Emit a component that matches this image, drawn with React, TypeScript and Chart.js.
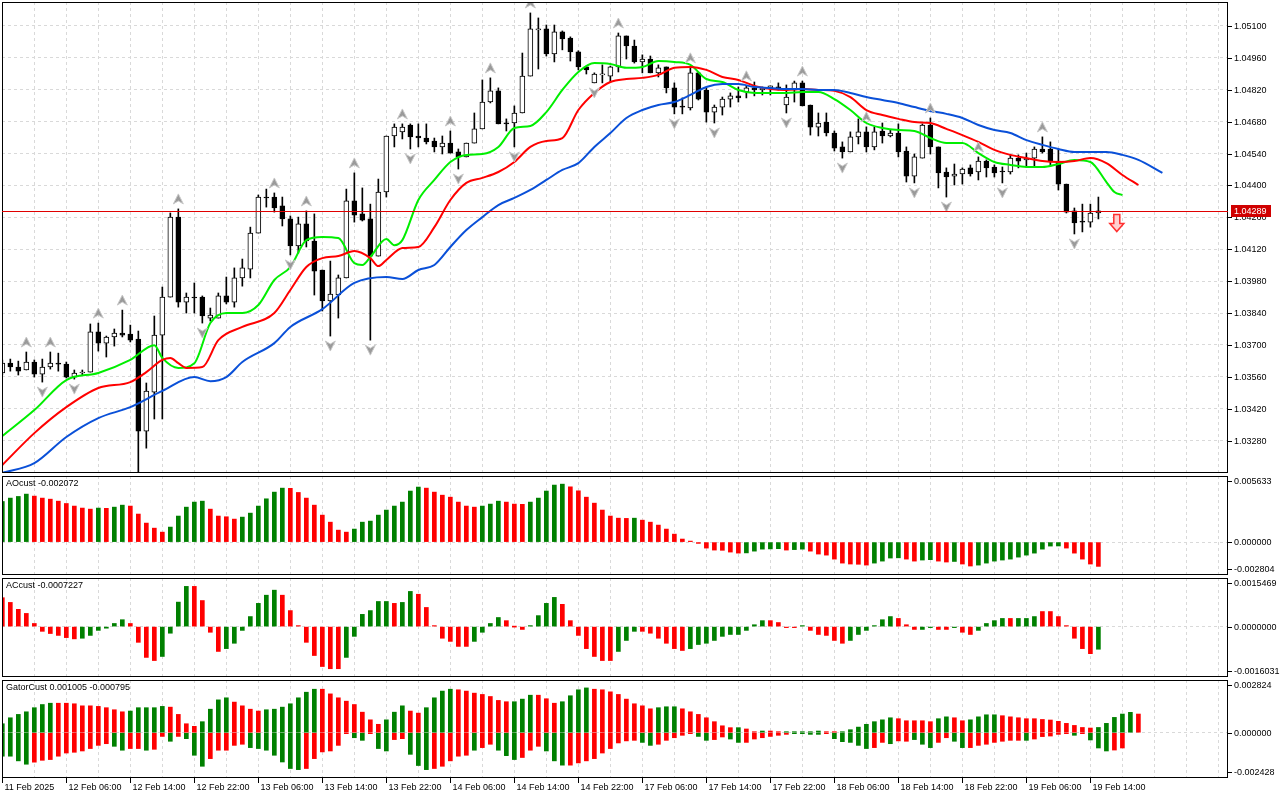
import React, { useEffect, useRef } from "react";
import { Chart, registerables } from "chart.js";
Chart.register(...registerables);

const opens = [
1.03577,1.03620,1.03603,1.03590,1.03625,1.03572,1.03603,1.03620,1.03616,1.03559,
1.03577,1.03581,1.03757,1.03708,1.03735,1.03752,1.03748,1.03726,1.03322,1.03493,
1.03743,1.03910,1.04261,1.03888,1.03910,1.03910,1.03818,1.03818,1.03915,1.03888,
1.03994,1.04033,1.04191,1.04349,1.04349,1.04310,1.04253,1.04134,1.04231,1.04156,
1.04029,1.03893,1.03919,1.03994,1.04332,1.04275,1.04253,1.04090,1.04371,1.04617,
1.04635,1.04665,1.04617,1.04608,1.04595,1.04569,1.04586,1.04547,1.04525,1.04586,
1.04648,1.04766,1.04815,1.04674,1.04674,1.04718,1.04880,1.05082,1.05087,1.04977,
1.05074,1.05047,1.04986,1.04920,1.04850,1.04885,1.04880,1.04920,1.05056,1.05012,
1.04942,1.04955,1.04894,1.04920,1.04828,1.04744,1.04740,1.04894,1.04819,1.04722,
1.04744,1.04779,1.04793,1.04810,1.04828,1.04819,1.04828,1.04832,1.04753,1.04819,
1.04850,1.04753,1.04656,1.04678,1.04630,1.04569,1.04547,1.04613,1.04635,1.04569,
1.04639,1.04617,1.04630,1.04551,1.04441,1.04520,1.04665,1.04569,1.04459,1.04441,
1.04450,1.04477,1.04459,1.04507,1.04481,1.04463,1.04459,1.04520,1.04512,1.04520,
1.04560,1.04560,1.04507,1.04406,1.04288,1.04239,1.04239,1.04279];
const highs = [
1.03634,1.03638,1.03629,1.03669,1.03634,1.03638,1.03669,1.03664,1.03625,1.03590,
1.03590,1.03792,1.03796,1.03739,1.03770,1.03853,1.03787,1.03761,1.03533,1.03827,
1.03954,1.04279,1.04297,1.03928,1.03972,1.03915,1.03862,1.03928,1.03998,1.04038,
1.04077,1.04217,1.04358,1.04384,1.04367,1.04349,1.04266,1.04261,1.04288,1.04275,
1.04029,1.04068,1.04007,1.04384,1.04455,1.04389,1.04318,1.04428,1.04617,1.04670,
1.04670,1.04670,1.04670,1.04670,1.04608,1.04617,1.04639,1.04560,1.04586,1.04718,
1.04863,1.04872,1.04828,1.04692,1.04749,1.04981,1.05157,1.05135,1.05104,1.05104,
1.05078,1.05052,1.04991,1.04924,1.04894,1.04929,1.04924,1.05069,1.05056,1.05038,
1.04973,1.04968,1.04929,1.04920,1.04850,1.04784,1.04916,1.04898,1.04828,1.04753,
1.04788,1.04806,1.04832,1.04837,1.04854,1.04832,1.04837,1.04850,1.04841,1.04858,
1.04858,1.04753,1.04718,1.04718,1.04639,1.04591,1.04635,1.04692,1.04657,1.04657,
1.04674,1.04643,1.04670,1.04569,1.04538,1.04670,1.04696,1.04569,1.04477,1.04494,
1.04477,1.04490,1.04525,1.04512,1.04490,1.04481,1.04534,1.04534,1.04542,1.04569,
1.04613,1.04591,1.04560,1.04406,1.04301,1.04318,1.04318,1.04349];
const lows = [
1.03568,1.03585,1.03568,1.03590,1.03559,1.03537,1.03594,1.03585,1.03555,1.03550,
1.03568,1.03581,1.03673,1.03647,1.03695,1.03735,1.03713,1.03142,1.03247,1.03375,
1.03375,1.03910,1.03866,1.03840,1.03840,1.03796,1.03805,1.03818,1.03880,1.03866,
1.03958,1.03994,1.04191,1.04305,1.04283,1.04222,1.04095,1.04103,1.04130,1.03919,
1.03849,1.03739,1.03818,1.03994,1.04239,1.04244,1.03721,1.04090,1.04349,1.04569,
1.04604,1.04560,1.04569,1.04582,1.04547,1.04538,1.04542,1.04472,1.04525,1.04586,
1.04648,1.04762,1.04670,1.04639,1.04569,1.04718,1.04880,1.04911,1.04968,1.04942,
1.04995,1.04946,1.04907,1.04889,1.04850,1.04850,1.04854,1.04898,1.04955,1.04937,
1.04894,1.04894,1.04876,1.04806,1.04714,1.04714,1.04731,1.04775,1.04678,1.04674,
1.04709,1.04744,1.04766,1.04784,1.04793,1.04797,1.04797,1.04819,1.04718,1.04766,
1.04749,1.04621,1.04617,1.04617,1.04551,1.04520,1.04547,1.04582,1.04547,1.04556,
1.04586,1.04613,1.04525,1.04415,1.04411,1.04520,1.04538,1.04389,1.04349,1.04402,
1.04406,1.04441,1.04424,1.04437,1.04437,1.04411,1.04450,1.04477,1.04481,1.04485,
1.04542,1.04490,1.04380,1.04279,1.04187,1.04196,1.04217,1.04253];
const closes = [
1.03620,1.03603,1.03585,1.03625,1.03572,1.03603,1.03620,1.03616,1.03559,1.03577,
1.03581,1.03757,1.03708,1.03735,1.03752,1.03743,1.03721,1.03322,1.03498,1.03743,
1.03910,1.04261,1.03888,1.03910,1.03906,1.03827,1.03831,1.03915,1.03888,1.03994,
1.04038,1.04191,1.04349,1.04345,1.04301,1.04253,1.04134,1.04231,1.04156,1.04024,
1.03893,1.03923,1.03994,1.04332,1.04270,1.04248,1.04090,1.04371,1.04617,1.04656,
1.04656,1.04613,1.04608,1.04591,1.04569,1.04586,1.04542,1.04525,1.04586,1.04648,
1.04766,1.04815,1.04670,1.04670,1.04718,1.04880,1.05087,1.05087,1.04977,1.05074,
1.05043,1.04986,1.04920,1.04907,1.04889,1.04889,1.04920,1.05056,1.05012,1.04942,
1.04955,1.04894,1.04916,1.04828,1.04744,1.04744,1.04894,1.04779,1.04722,1.04744,
1.04779,1.04793,1.04784,1.04828,1.04819,1.04828,1.04837,1.04828,1.04788,1.04850,
1.04749,1.04656,1.04674,1.04630,1.04564,1.04547,1.04613,1.04635,1.04569,1.04635,
1.04617,1.04630,1.04547,1.04441,1.04525,1.04665,1.04569,1.04455,1.04437,1.04450,
1.04472,1.04450,1.04507,1.04477,1.04455,1.04459,1.04520,1.04507,1.04520,1.04560,
1.04547,1.04507,1.04406,1.04283,1.04235,1.04239,1.04279,1.04289];

const jaw = [[0,1.03138],[4,1.03181],[8,1.03296],[12,1.03379],[16,1.03427],[20,1.03498],[24,1.03559],[26,1.03541],[28,1.03559],[30,1.03625],[34,1.03708],[36,1.03779],[40,1.03857],[44,1.03972],[48,1.03998],[50,1.03989],[52,1.04029],[54,1.04051],[56,1.04130],[58,1.04204],[60,1.04261],[62,1.04314],[64,1.04345],[66,1.04380],[68,1.04424],[70,1.04468],[72,1.04498],[74,1.04569],[76,1.04630],[78,1.04696],[80,1.04731],[82,1.04753],[84,1.04766],[86,1.04797],[88,1.04832],[90,1.04845],[92,1.04845],[94,1.04832],[96,1.04828],[98,1.04823],[100,1.04823],[102,1.04819],[104,1.04819],[106,1.04806],[108,1.04788],[110,1.04775],[112,1.04762],[114,1.04744],[116,1.04727],[118,1.04714],[120,1.04696],[122,1.04665],[124,1.04643],[126,1.04630],[128,1.04599],[130,1.04578],[132,1.04560],[134,1.04547],[136,1.04547],[138,1.04547],[140,1.04534],[142,1.04512],[145,1.04455]];
const teeth = [[0,1.03173],[4,1.03313],[8,1.03427],[12,1.03511],[16,1.03537],[18,1.03581],[20,1.03634],[21,1.03643],[22,1.03620],[23,1.03599],[25,1.03603],[27,1.03721],[30,1.03779],[34,1.03840],[36,1.03941],[38,1.04042],[40,1.04081],[42,1.04090],[44,1.04112],[46,1.04081],[47,1.04046],[48,1.04073],[50,1.04125],[52,1.04130],[54,1.04217],[56,1.04336],[58,1.04411],[60,1.04433],[62,1.04459],[64,1.04503],[66,1.04569],[68,1.04595],[70,1.04608],[72,1.04731],[74,1.04806],[76,1.04854],[78,1.04867],[80,1.04872],[82,1.04885],[84,1.04916],[86,1.04920],[88,1.04907],[90,1.04876],[92,1.04863],[94,1.04837],[96,1.04823],[98,1.04819],[100,1.04823],[102,1.04819],[104,1.04815],[106,1.04788],[108,1.04731],[110,1.04709],[112,1.04692],[114,1.04678],[116,1.04674],[118,1.04648],[120,1.04621],[122,1.04591],[124,1.04556],[126,1.04534],[128,1.04520],[130,1.04507],[132,1.04503],[134,1.04507],[136,1.04520],[138,1.04498],[140,1.04446],[142,1.04402]];
const lips = [[0,1.03300],[4,1.03414],[8,1.03546],[12,1.03577],[16,1.03634],[19,1.03699],[20,1.03643],[22,1.03599],[24,1.03620],[26,1.03796],[28,1.03840],[30,1.03840],[32,1.03875],[34,1.03985],[36,1.04042],[38,1.04160],[40,1.04174],[42,1.04169],[44,1.04059],[45,1.04051],[46,1.04086],[48,1.04165],[49,1.04138],[50,1.04160],[52,1.04336],[54,1.04424],[56,1.04503],[58,1.04534],[60,1.04538],[62,1.04569],[64,1.04652],[66,1.04661],[68,1.04722],[70,1.04819],[72,1.04898],[74,1.04937],[76,1.04933],[78,1.04916],[80,1.04920],[82,1.04946],[84,1.04942],[86,1.04929],[88,1.04867],[90,1.04854],[92,1.04819],[94,1.04806],[96,1.04806],[98,1.04806],[100,1.04810],[102,1.04810],[104,1.04779],[106,1.04731],[108,1.04674],[110,1.04652],[112,1.04643],[114,1.04639],[116,1.04608],[118,1.04586],[120,1.04586],[122,1.04542],[124,1.04503],[126,1.04490],[128,1.04481],[130,1.04481],[132,1.04494],[134,1.04512],[136,1.04503],[138,1.04415],[139,1.04371],[140,1.04358]];

const fractalUp = [3,6,12,15,22,34,38,44,50,56,61,66,77,86,93,100,108,116,122,130];
const fractalDown = [5,9,17,25,36,41,46,51,57,64,74,84,89,98,105,114,118,125,134];
const priceTicks = [1.051,1.0496,1.0482,1.0468,1.0454,1.044,1.0426,1.0412,1.0398,1.0384,1.037,1.0356,1.0342,1.0328];
const lastPrice = 1.04289;
const signalBar = 139.3;
const signalPrice = 1.04272;

const aoValues = [
0.00346,0.00375,0.00389,0.00409,0.00392,0.00375,0.00366,0.00349,0.00329,0.00307,
0.00290,0.00281,0.00290,0.00288,0.00298,0.00315,0.00307,0.00239,0.00162,0.00119,
0.00085,0.00128,0.00222,0.00298,0.00341,0.00349,0.00281,0.00222,0.00216,0.00196,
0.00213,0.00247,0.00307,0.00369,0.00426,0.00460,0.00458,0.00423,0.00375,0.00315,
0.00230,0.00170,0.00102,0.00085,0.00111,0.00170,0.00179,0.00230,0.00273,0.00307,
0.00341,0.00435,0.00469,0.00460,0.00426,0.00400,0.00383,0.00341,0.00307,0.00298,
0.00307,0.00324,0.00349,0.00341,0.00324,0.00322,0.00341,0.00375,0.00435,0.00486,
0.00494,0.00471,0.00437,0.00383,0.00332,0.00273,0.00222,0.00204,0.00202,0.00204,
0.00187,0.00170,0.00145,0.00111,0.00068,0.00026,0.00002,-0.00011,-0.00051,-0.00068,
-0.00070,-0.00085,-0.00094,-0.00092,-0.00077,-0.00060,-0.00058,-0.00056,-0.00068,-0.00064,
-0.00060,-0.00077,-0.00102,-0.00111,-0.00145,-0.00179,-0.00187,-0.00189,-0.00196,-0.00179,
-0.00162,-0.00136,-0.00134,-0.00145,-0.00162,-0.00153,-0.00150,-0.00162,-0.00170,-0.00165,
-0.00187,-0.00204,-0.00196,-0.00179,-0.00162,-0.00153,-0.00145,-0.00128,-0.00111,-0.00094,
-0.00060,-0.00034,-0.00033,-0.00051,-0.00094,-0.00145,-0.00187,-0.00207];
const aoColors =
  "GGGG"+"RRRRRRRR"+"G"+"R"+"GG"+"RRRRR"+"GGGGG"+"RRRR"+"GGGGGG"+"RRRRRRRR"+"GGGGGGGGG"+"RRRRRRR"+"GGG"+"RRR"+"GGGGG"+
  "RRRRRRRR"+"G"+"RRRRRRRRRRRRR"+"GGGGG"+"R"+"GG"+"RRRRRRRR"+"GGGG"+"RR"+"GG"+"RR"+"G"+"RR"+"GGGGGGGGGGG"+"RRRRR";

const acValues = [
0.00092,0.00077,0.00055,0.00042,0.00010,-0.00015,-0.00022,-0.00028,-0.00035,-0.00039,
-0.00037,-0.00028,-0.00012,-0.00005,0.00010,0.00022,0.00010,-0.00050,-0.00098,-0.00108,
-0.00095,-0.00021,0.00078,0.00128,0.00128,0.00083,-0.00018,-0.00079,-0.00070,-0.00053,
-0.00012,0.00032,0.00074,0.00100,0.00116,0.00100,0.00051,0.00001,-0.00050,-0.00092,
-0.00127,-0.00134,-0.00134,-0.00098,-0.00031,0.00039,0.00051,0.00080,0.00080,0.00074,
0.00077,0.00112,0.00103,0.00061,0.00003,-0.00037,-0.00047,-0.00063,-0.00063,-0.00047,
-0.00018,0.00010,0.00029,0.00019,0.00000,-0.00009,0.00003,0.00035,0.00074,0.00093,
0.00071,0.00019,-0.00028,-0.00070,-0.00095,-0.00108,-0.00108,-0.00079,-0.00044,-0.00015,
-0.00015,-0.00021,-0.00037,-0.00053,-0.00070,-0.00076,-0.00070,-0.00057,-0.00053,-0.00044,
-0.00031,-0.00025,-0.00025,-0.00012,0.00006,0.00019,0.00019,0.00013,-0.00002,-0.00002,
0.00001,-0.00012,-0.00025,-0.00028,-0.00044,-0.00053,-0.00044,-0.00025,-0.00012,0.00003,
0.00022,0.00032,0.00026,0.00006,-0.00009,-0.00009,-0.00002,-0.00009,-0.00009,-0.00002,
-0.00018,-0.00025,-0.00012,0.00010,0.00019,0.00026,0.00026,0.00026,0.00026,0.00032,
0.00048,0.00048,0.00032,0.00003,-0.00037,-0.00070,-0.00086,-0.00072];
const acColors =
  "RRRRRRRRRR"+"GGGGGG"+"RRRR"+"GGGG"+"RRRR"+"GGGGGGG"+"RRRRRRRR"+"GGGGGG"+"R"+"GG"+"RRRRRRR"+"GGGG"+"RRR"+"GGGG"+
  "RRRRRRR"+"GGG"+"RRRRRR"+"GGGGGGGGGG"+"RRRR"+"G"+"RRRRR"+"GGGGGG"+"RRR"+"GG"+"RR"+"G"+"RR"+"GGGG"+"R"+"GGG"+"RRRRRRR"+"G";

const gatorUp = [
0.00048,0.00080,0.00098,0.00112,0.00134,0.00151,0.00158,0.00158,0.00158,0.00155,
0.00144,0.00144,0.00141,0.00134,0.00123,0.00112,0.00116,0.00134,0.00134,0.00134,
0.00141,0.00137,0.00098,0.00048,0.00034,0.00059,0.00126,0.00176,0.00187,0.00164,
0.00144,0.00126,0.00116,0.00123,0.00126,0.00137,0.00155,0.00187,0.00217,0.00233,
0.00233,0.00208,0.00187,0.00169,0.00151,0.00110,0.00069,0.00045,0.00069,0.00110,
0.00144,0.00116,0.00105,0.00134,0.00187,0.00223,0.00233,0.00230,0.00223,0.00212,
0.00205,0.00194,0.00173,0.00166,0.00166,0.00180,0.00201,0.00201,0.00182,0.00158,
0.00166,0.00198,0.00230,0.00240,0.00233,0.00230,0.00219,0.00205,0.00180,0.00155,
0.00144,0.00128,0.00134,0.00139,0.00139,0.00128,0.00112,0.00098,0.00080,0.00059,
0.00037,0.00027,0.00027,0.00020,0.00005,0.00009,0.00009,0.00002,0.00005,0.00005,
0.00005,0.00005,0.00009,0.00005,0.00002,0.00005,0.00016,0.00030,0.00045,0.00059,
0.00069,0.00080,0.00075,0.00064,0.00064,0.00064,0.00059,0.00075,0.00085,0.00080,
0.00064,0.00069,0.00085,0.00096,0.00096,0.00091,0.00085,0.00080,0.00075,0.00075,
0.00071,0.00068,0.00061,0.00050,0.00039,0.00028,0.00025,0.00028,0.00050,0.00082,
0.00100,0.00109,0.00100];
const gatorUpColors =
  "GGGGGGG"+"RRRRRRRRR"+"GGGGG"+"RRRR"+"GGGG"+"RRRR"+"GGGGGGG"+"RRRRRRRR"+"GGG"+"RR"+"GGGG"+"RRRRRRR"+"GGG"+"RRR"+
  "GGGG"+"RRRRRRRR"+"GGG"+"RRRRRRR"+"G"+"RR"+"G"+"RR"+"GGGGG"+"RR"+"GGGGGGG"+"RRRRR"+"GG"+"RR"+"GGGG"+"RRRRRRRRRRRR"+"GGGGG"+"R";
const gatorDown = [
-0.00126,-0.00126,-0.00151,-0.00169,-0.00158,-0.00148,-0.00144,-0.00126,-0.00109,-0.00105,
-0.00098,-0.00085,-0.00068,-0.00059,-0.00073,-0.00094,-0.00085,-0.00085,-0.00094,-0.00089,
-0.00020,-0.00046,-0.00020,-0.00032,-0.00121,-0.00180,-0.00139,-0.00094,-0.00094,-0.00068,
-0.00062,-0.00080,-0.00085,-0.00094,-0.00121,-0.00157,-0.00192,-0.00198,-0.00192,-0.00139,
-0.00103,-0.00098,-0.00068,-0.00005,-0.00027,-0.00041,-0.00005,-0.00085,-0.00098,-0.00037,
-0.00032,-0.00116,-0.00176,-0.00198,-0.00192,-0.00180,-0.00151,-0.00126,-0.00121,-0.00094,
-0.00080,-0.00062,-0.00094,-0.00123,-0.00144,-0.00133,-0.00094,-0.00073,-0.00098,-0.00151,
-0.00174,-0.00174,-0.00162,-0.00151,-0.00139,-0.00109,-0.00085,-0.00055,-0.00044,-0.00041,
-0.00052,-0.00068,-0.00062,-0.00041,-0.00027,-0.00014,-0.00005,-0.00020,-0.00041,-0.00037,
-0.00023,-0.00034,-0.00052,-0.00052,-0.00034,-0.00027,-0.00020,-0.00014,-0.00009,-0.00005,
-0.00005,-0.00009,-0.00009,-0.00002,-0.00032,-0.00048,-0.00052,-0.00068,-0.00085,-0.00080,
-0.00052,-0.00059,-0.00044,-0.00046,-0.00037,-0.00062,-0.00080,-0.00052,-0.00027,-0.00046,
-0.00080,-0.00080,-0.00068,-0.00062,-0.00052,-0.00046,-0.00041,-0.00041,-0.00041,-0.00034,
-0.00021,-0.00018,-0.00009,-0.00004,-0.00014,-0.00004,-0.00039,-0.00082,-0.00098,-0.00093,
-0.00082];
const gatorDownColors =
  "GGGG"+"RRRRRRRRRR"+"GG"+"RR"+"G"+"RR"+"G"+"R"+"GGG"+"RRRRR"+"GGGGGGG"+"RRRRRR"+"GG"+"R"+"GG"+"RR"+"GGG"+"RRRRR"+"G"+"RR"+"GGG"+"RRR"+"GG"+
  "G"+"RRRRRRRRR"+"GG"+"RRRRR"+"GG"+"RR"+"GG"+"RRRRRR"+"GGGG"+"R"+"GGGGG"+"RR"+"G"+"RR"+"GGG"+"RR"+"GG"+"RRRRRRR"+"G"+"RRRRR"+"G"+"R"+"GGG"+"RR";

const timeLabels = ["11 Feb 2025","12 Feb 06:00","12 Feb 14:00","12 Feb 22:00","13 Feb 06:00","13 Feb 14:00","13 Feb 22:00","14 Feb 06:00","14 Feb 14:00","14 Feb 22:00","17 Feb 06:00","17 Feb 14:00","17 Feb 22:00","18 Feb 06:00","18 Feb 14:00","18 Feb 22:00","19 Feb 06:00","19 Feb 14:00"];
const timeLabelBars = [0,8,16,24,32,40,48,56,64,72,80,88,96,104,112,120,128,136];

const X_MIN = -0.04, X_MAX = 153.2;
const GREEN = "#008000", RED = "#ff0000";
const FONT = "Liberation Sans";
const AXIS_FONT = `9px ${FONT}`;
const gridBars: number[] = [];
for (let b = 4; b <= 152; b += 4) gridBars.push(b);

const framePlugin = {
  id: "frame",
  afterDraw(chart: any) {
    const { ctx, chartArea: a } = chart;
    ctx.save();
    ctx.strokeStyle = "#000";
    ctx.lineWidth = 1;
    ctx.strokeRect(Math.round(a.left) + 0.5, Math.round(a.top) + 0.5, Math.round(a.right - a.left) - 1, Math.round(a.bottom - a.top) - 1);
    ctx.restore();
  },
};

function xScale() {
  return {
    type: "linear", min: X_MIN, max: X_MAX, offset: false,
    afterBuildTicks: (ax: any) => { ax.ticks = gridBars.map((v) => ({ value: v })); },
    afterFit: (ax: any) => { ax.height = 0; },
    ticks: { display: false },
    grid: { color: "#d9d9d9", drawTicks: false, lineWidth: 1, offset: false },
    border: { display: false, dash: [3, 3] },
  };
}

function drawArrow(ctx: any, x: number, y: number, up: boolean) {
  const d = up ? 1 : -1;
  ctx.beginPath();
  ctx.moveTo(x, y - 6 * d);
  ctx.lineTo(x + 5, y + 4 * d);
  ctx.lineTo(x, y + 1 * d);
  ctx.lineTo(x - 5, y + 4 * d);
  ctx.closePath();
  ctx.fillStyle = "#9a9a9a";
  ctx.fill();
  ctx.strokeStyle = "#c8c8c8";
  ctx.lineWidth = 1;
  ctx.stroke();
}

const mainPlugin = {
  id: "mainExtras",
  afterDatasetsDraw(chart: any) {
    const { ctx, chartArea: a } = chart;
    const xs = chart.scales.x, ys = chart.scales.y;
    ctx.save();
    ctx.beginPath();
    ctx.rect(a.left, a.top, a.right - a.left, a.bottom - a.top);
    ctx.clip();
    fractalUp.forEach((i) => drawArrow(ctx, xs.getPixelForValue(i), ys.getPixelForValue(highs[i]) - 9, true));
    fractalDown.forEach((i) => drawArrow(ctx, xs.getPixelForValue(i), ys.getPixelForValue(lows[i]) + 9, false));
    const sx = xs.getPixelForValue(signalBar), sy = ys.getPixelForValue(signalPrice);
    ctx.beginPath();
    ctx.moveTo(sx - 3, sy); ctx.lineTo(sx + 3, sy); ctx.lineTo(sx + 3, sy + 9);
    ctx.lineTo(sx + 7, sy + 9); ctx.lineTo(sx, sy + 17); ctx.lineTo(sx - 7, sy + 9);
    ctx.lineTo(sx - 3, sy + 9); ctx.closePath();
    ctx.fillStyle = "#ffd0d0"; ctx.fill();
    ctx.strokeStyle = "#ff3030"; ctx.lineWidth = 1.5; ctx.stroke();
    ctx.restore();
  },
  afterDraw(chart: any) {
    const { ctx, chartArea: a } = chart;
    const ys = chart.scales.y;
    ctx.save();
    const py = Math.round(ys.getPixelForValue(lastPrice));
    ctx.fillStyle = "#e00000";
    ctx.fillRect(a.left, py, a.right - a.left, 1);
    ctx.font = AXIS_FONT;
    ctx.textBaseline = "middle";
    ctx.fillStyle = "#000";
    priceTicks.forEach((v) => {
      const y = Math.round(ys.getPixelForValue(v));
      ctx.fillRect(a.right, y, 4, 1);
      ctx.fillText(v.toFixed(5), a.right + 6, y + 0.5);
    });
    ctx.fillStyle = "#d00000";
    ctx.fillRect(a.right + 3, py - 6, 40, 12);
    ctx.fillStyle = "#fff";
    ctx.fillText(lastPrice.toFixed(5), a.right + 6, py + 0.5);
    ctx.restore();
  },
};

function subPlugin(title: string, ticks: number[], decimals: number, withTime: boolean) {
  return {
    id: "sub" + title.slice(0, 4),
    afterDraw(chart: any) {
      const { ctx, chartArea: a } = chart;
      const ys = chart.scales.y, xs = chart.scales.x;
      ctx.save();
      ctx.font = AXIS_FONT;
      ctx.fillStyle = "#000";
      ctx.textBaseline = "middle";
      ctx.fillText(title, a.left + 4, a.top + 8);
      ctx.strokeStyle = "#000";
      ctx.lineWidth = 1;
      ticks.forEach((v) => {
        let y = ys.getPixelForValue(v);
        y = Math.max(a.top + 5, Math.min(a.bottom - 6, y));
        y = Math.round(y) + 0.5;
        ctx.beginPath(); ctx.moveTo(a.right, y); ctx.lineTo(a.right + 4, y); ctx.stroke();
        ctx.fillText(v.toFixed(decimals), a.right + 6, y);
      });
      if (withTime) {
        timeLabelBars.forEach((b, k) => {
          const x = Math.round(xs.getPixelForValue(b)) + 0.5;
          ctx.beginPath(); ctx.moveTo(x, a.bottom); ctx.lineTo(x, a.bottom + 5); ctx.stroke();
          ctx.fillText(timeLabels[k], x + 2, a.bottom + 10);
        });
      }
      ctx.restore();
    },
  };
}

function yScale(min: number, max: number, gridTicks: number[]) {
  return {
    position: "right", min, max,
    afterBuildTicks: (ax: any) => { ax.ticks = gridTicks.map((v) => ({ value: v })); },
    afterFit: (ax: any) => { ax.width = 52; },
    ticks: { display: false },
    grid: { color: "#d9d9d9", drawTicks: false },
    border: { display: false, dash: [3, 3] },
  };
}

function subChart(canvas: HTMLCanvasElement, datasets: any[], min: number, max: number, title: string, decimals: number, withTime: boolean, padBottom: number) {
  return new Chart(canvas, {
    type: "bar",
    data: { datasets },
    options: {
      animation: false, responsive: false,
      layout: { padding: { left: 2, top: 2, right: 0, bottom: padBottom } },
      plugins: { legend: { display: false }, tooltip: { enabled: false } },
      scales: { x: xScale() as any, y: yScale(min, max, [0]) as any },
    },
    plugins: [framePlugin, subPlugin(title, [max, 0, min], decimals, withTime)],
  });
}

function colorBars(vals: number[], cols: string, order = 1) {
  return {
    data: vals.map((v, i) => ({ x: i, y: v })),
    backgroundColor: vals.map((_, i) => (cols[i] === "G" ? GREEN : RED)),
    barThickness: 4, grouped: false, minBarLength: 1, order,
  };
}

export default function App() {
  const mainRef = useRef<HTMLCanvasElement>(null);
  const aoRef = useRef<HTMLCanvasElement>(null);
  const acRef = useRef<HTMLCanvasElement>(null);
  const gRef = useRef<HTMLCanvasElement>(null);

  useEffect(() => {
    document.body.style.margin = "0";
    Chart.defaults.font.family = FONT;
    Chart.defaults.font.size = 9;
    Chart.defaults.color = "#000";
    const idx = opens.map((_, i) => i);
    const main = new Chart(mainRef.current!, {
      type: "bar",
      data: {
        datasets: [
          { data: idx.map((i) => ({ x: i, y: [lows[i], highs[i]] })), backgroundColor: "#000", barThickness: 1, grouped: false, order: 3 } as any,
          {
            data: idx.map((i) => ({ x: i, y: [opens[i], closes[i]] })),
            backgroundColor: idx.map((i) => (closes[i] > opens[i] ? "#fff" : "#000")),
            borderColor: "#000", borderWidth: 1, borderSkipped: false, barThickness: 5, grouped: false, minBarLength: 1, order: 2,
          } as any,
          { type: "line", data: jaw.map(([x, y]) => ({ x, y })), borderColor: "#0a50d8", borderWidth: 2, pointRadius: 0, cubicInterpolationMode: "monotone", order: 1 } as any,
          { type: "line", data: teeth.map(([x, y]) => ({ x, y })), borderColor: "#ff0000", borderWidth: 2, pointRadius: 0, cubicInterpolationMode: "monotone", order: 1 } as any,
          { type: "line", data: lips.map(([x, y]) => ({ x, y })), borderColor: "#00ee00", borderWidth: 2, pointRadius: 0, cubicInterpolationMode: "monotone", order: 1 } as any,
        ],
      },
      options: {
        animation: false, responsive: false,
        layout: { padding: { left: 2, top: 2, right: 0, bottom: 3 } },
        plugins: { legend: { display: false }, tooltip: { enabled: false } },
        scales: { x: xScale() as any, y: yScale(1.03138, 1.05205, priceTicks) as any },
      },
      plugins: [framePlugin, mainPlugin],
    });
    const ao = subChart(aoRef.current!, [colorBars(aoValues, aoColors)], -0.002804, 0.005633, "AOcust -0.002072", 6, false, 2);
    const ac = subChart(acRef.current!, [colorBars(acValues, acColors)], -0.0016031, 0.0015469, "ACcust -0.0007227", 7, false, 2);
    const gt = subChart(gRef.current!, [colorBars(gatorUp, gatorUpColors), colorBars(gatorDown, gatorDownColors)], -0.002428, 0.002824, "GatorCust 0.001005 -0.000795", 6, true, 22);
    return () => { main.destroy(); ao.destroy(); ac.destroy(); gt.destroy(); };
  }, []);

  const pos = (top: number): React.CSSProperties => ({ position: "absolute", left: 0, top });
  return (
    <div style={{ position: "relative", width: 1280, height: 800, background: "#fff" }}>
      <canvas ref={mainRef} width={1280} height={476} style={pos(0)} />
      <canvas ref={aoRef} width={1280} height={103} style={pos(474)} />
      <canvas ref={acRef} width={1280} height={103} style={pos(576)} />
      <canvas ref={gRef} width={1280} height={122} style={pos(678)} />
    </div>
  );
}
